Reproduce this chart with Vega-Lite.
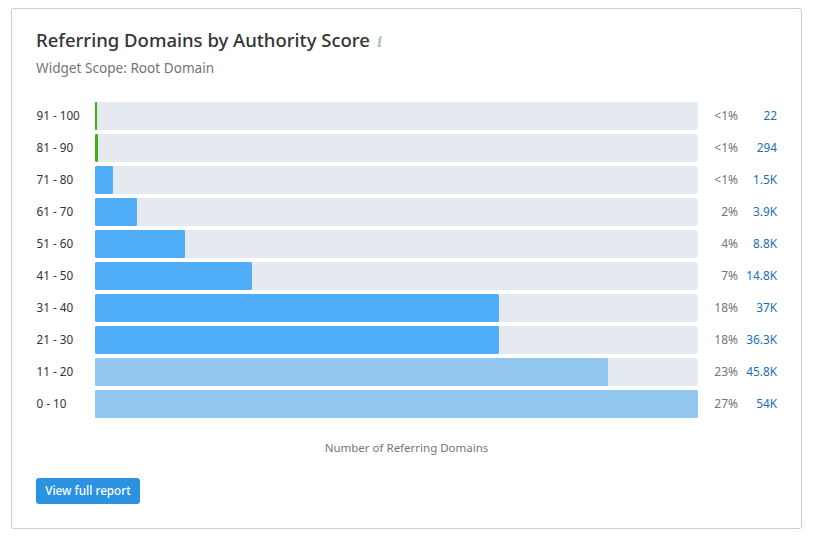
{
"$schema":"https://vega.github.io/schema/vega-lite/v6.json",
"width":790,"height":520,
"autosize":{"type":"none"},
"padding":{"left":11,"top":8,"right":12,"bottom":9},
"background":"white",
"view":{"stroke":"#cccccc","strokeWidth":1,"fill":"white","cornerRadius":2},
"title":{"text":"Referring Domains by Authority Score","subtitle":"Widget Scope: Root Domain","anchor":"start","frame":"group","dx":25,"offset":-68,"font":"Noto Sans","fontSize":18.5,"fontWeight":500,"color":"#333333","subtitleFont":"Noto Sans","subtitleFontSize":13.6,"subtitleColor":"#757575","subtitlePadding":12},
"data":{"values":[
{"range":"91 - 100","bar":180,"total":54000,"tier":"high","pct":"<1%","label":"22"},
{"range":"81 - 90","bar":270,"total":54000,"tier":"high","pct":"<1%","label":"294"},
{"range":"71 - 80","bar":1610,"total":54000,"tier":"mid","pct":"<1%","label":"1.5K"},
{"range":"61 - 70","bar":3760,"total":54000,"tier":"mid","pct":"2%","label":"3.9K"},
{"range":"51 - 60","bar":8060,"total":54000,"tier":"mid","pct":"4%","label":"8.8K"},
{"range":"41 - 50","bar":14060,"total":54000,"tier":"mid","pct":"7%","label":"14.8K"},
{"range":"31 - 40","bar":36180,"total":54000,"tier":"mid","pct":"18%","label":"37K"},
{"range":"21 - 30","bar":36180,"total":54000,"tier":"mid","pct":"18%","label":"36.3K"},
{"range":"11 - 20","bar":45940,"total":54000,"tier":"low","pct":"23%","label":"45.8K"},
{"range":"0 - 10","bar":54000,"total":54000,"tier":"low","pct":"27%","label":"54K"}
]},
"encoding":{
"y":{"field":"range","type":"nominal","sort":null,
"scale":{"range":[94,410],"paddingInner":0.125,"paddingOuter":0},
"axis":{"title":null,"domain":false,"ticks":false,"grid":false,"labelAlign":"left","labelPadding":-25,"labelFont":"Noto Sans","labelFontSize":11.7,"labelColor":"#333333"}}
},
"layer":[
{"mark":{"type":"bar","color":"#e4eaf0","cornerRadius":2},
"encoding":{"x":{"field":"total","type":"quantitative","scale":{"domain":[0,54000],"range":[84,687],"nice":false,"zero":false},
"axis":{"title":"Number of Referring Domains","labels":false,"ticks":false,"domain":false,"grid":false,"titleFont":"Noto Sans","titleFontSize":11.5,"titleFontWeight":"normal","titleColor":"#757575","titleX":395,"titleY":-86}}}},
{"mark":{"type":"bar","cornerRadius":1.5},
"encoding":{"x":{"field":"bar","type":"quantitative"},
"color":{"field":"tier","type":"nominal","legend":null,"scale":{"domain":["high","mid","low"],"range":["#3cb010","#50aef8","#91c6ef"]}}}},
{"mark":{"type":"text","align":"right","font":"Noto Sans","fontSize":12,"color":"#757575"},
"encoding":{"x":{"datum":57580},"text":{"field":"pct"}}},
{"mark":{"type":"text","align":"right","font":"Noto Sans","fontSize":11.8,"color":"#1a70b8"},
"encoding":{"x":{"datum":61075},"text":{"field":"label"}}},
{"data":{"values":[{"range":"0 - 10","start":-5290,"end":4030,"t":"View full report","mid":-630,"i":"i","ix":25500}]},
"layer":[
{"mark":{"type":"bar","color":"#2a92e1","cornerRadius":3,"size":26,"yOffset":87},
"encoding":{"x":{"field":"start","type":"quantitative"},"x2":{"field":"end"}}},
{"mark":{"type":"text","color":"white","font":"Noto Sans","fontSize":11.7,"fontWeight":500,"dy":87},
"encoding":{"x":{"field":"mid","type":"quantitative"},"text":{"field":"t"}}},
{"mark":{"type":"text","color":"#b4bcc4","font":"DejaVu Serif","fontStyle":"italic","fontWeight":"bold","fontSize":14,"dy":-361},
"encoding":{"x":{"field":"ix","type":"quantitative"},"text":{"field":"i"}}}
]}
]
}
